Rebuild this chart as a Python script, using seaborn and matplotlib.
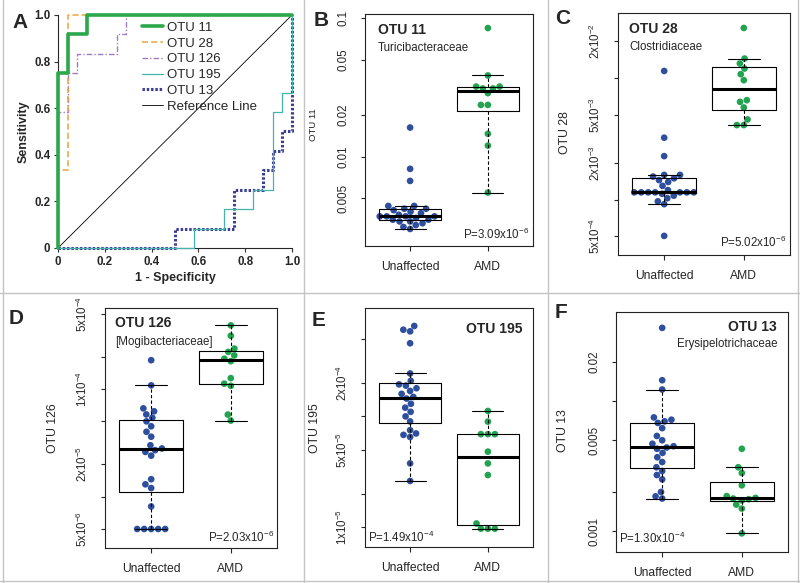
import numpy as np
import pandas as pd
import matplotlib
matplotlib.use("Agg")
import matplotlib.pyplot as plt
from matplotlib.lines import Line2D
from matplotlib.ticker import FixedLocator, NullLocator
import seaborn as sns

# ROC curves (1 - specificity, sensitivity) for panel A
roc_otu11_fpr = [0, 0, 0.042, 0.125, 1]
roc_otu11_tpr = [0, 0.75, 0.917, 1, 1]
roc_otu28_fpr = [0, 0, 0.042, 1]
roc_otu28_tpr = [0, 0.333, 1, 1]
roc_otu126_fpr = [0, 0, 0.042, 0.083, 0.25, 0.292, 1]
roc_otu126_tpr = [0, 0.583, 0.75, 0.833, 0.917, 1, 1]
roc_otu195_fpr = [0, 0.583, 0.708, 0.833, 0.917, 0.958, 1]
roc_otu195_tpr = [0, 0.083, 0.167, 0.25, 0.583, 0.667, 1]
roc_otu13_fpr = [0, 0.5, 0.75, 0.875, 0.917, 0.958, 1]
roc_otu13_tpr = [0, 0.083, 0.25, 0.333, 0.417, 0.5, 1]

groups = ["Unaffected", "AMD"]

# relative abundances per subject
otu11_unaffected = [0.0162, 0.00815, 0.00667, 0.0044, 0.0044, 0.0042, 0.0042, 0.0041,
                    0.0040, 0.0039, 0.0038, 0.0037, 0.0037, 0.0037, 0.0037, 0.0036,
                    0.0035, 0.0035, 0.0034, 0.0034, 0.0033, 0.0032, 0.0031, 0.0030]
otu11_amd = [0.0847, 0.0385, 0.032, 0.032, 0.031, 0.031, 0.0287, 0.0236, 0.0236,
             0.0146, 0.0120, 0.0055]

otu28_unaffected = [0.0114, 0.00323, 0.00228, 0.0016, 0.0016, 0.00155, 0.0015, 0.00145,
                    0.0014, 0.0013, 0.0012, 0.00115, 0.00115, 0.00115, 0.00115, 0.00115,
                    0.00115, 0.00115, 0.00112, 0.00108, 0.00103, 0.00097, 0.00092, 0.000505]
otu28_amd = [0.0257, 0.01442, 0.01313, 0.01194, 0.01073, 0.00958, 0.00656, 0.00636,
             0.00572, 0.00456, 0.0041, 0.0041]

otu126_unaffected = [1.85e-4, 1.08e-4, 6.6e-5, 6.2e-5, 5.8e-5, 5.4e-5, 5.0e-5, 4.5e-5,
                     4.0e-5, 3.6e-5, 3.0e-5, 2.8e-5, 2.7e-5, 2.6e-5, 2.4e-5, 1.45e-5,
                     1.3e-5, 1.2e-5, 8.1e-6, 5e-6, 5e-6, 5e-6, 5e-6, 5e-6]
otu126_amd = [3.9e-4, 3.12e-4, 2.37e-4, 2.21e-4, 2.05e-4, 1.91e-4, 1.81e-4, 1.26e-4,
              1.12e-4, 1.07e-4, 5.78e-5, 5.08e-5]

otu195_unaffected = [6.6e-4, 6.1e-4, 5.9e-4, 4.6e-4, 2.45e-4, 2.1e-4, 1.95e-4, 1.9e-4,
                     1.8e-4, 1.7e-4, 1.6e-4, 1.5e-4, 1.45e-4, 1.3e-4, 1.2e-4, 1.1e-4,
                     1.0e-4, 9.0e-5, 7.5e-5, 7.0e-5, 6.8e-5, 6.5e-5, 3.75e-5, 2.6e-5]
otu195_amd = [1.12e-4, 8.97e-5, 6.9e-5, 6.9e-5, 6.9e-5, 4.79e-5, 3.75e-5, 2.94e-5,
              1.07e-5, 9.6e-6, 9.6e-6, 9.6e-6]

otu13_unaffected = [0.0367, 0.0145, 0.0123, 0.0075, 0.0072, 0.0070, 0.0068, 0.0062,
                    0.0054, 0.0050, 0.0047, 0.0045, 0.0044, 0.0043, 0.0040, 0.0037,
                    0.0034, 0.0031, 0.0029, 0.0027, 0.0025, 0.0020, 0.00185, 0.00178]
otu13_amd = [0.0043, 0.0031, 0.0028, 0.00225, 0.00186, 0.0018, 0.00178, 0.00176,
             0.00172, 0.00160, 0.00149, 0.00096]

sns.set_style("ticks")
plt.rcParams["font.family"] = ["Liberation Sans", "DejaVu Sans"]
plt.rcParams["mathtext.fontset"] = "custom"
plt.rcParams["mathtext.rm"] = "Liberation Sans"
plt.rcParams["mathtext.it"] = "Liberation Sans:italic"
plt.rcParams["mathtext.bf"] = "Liberation Sans:bold"

W, H = 800, 583
BLUE = "#2d4f9e"
GREEN = "#22a34f"


def rect(l, t, r, b):
    return [l / W, 1 - b / H, (r - l) / W, (b - t) / H]


def sci(m, e):
    return rf"{m}x10$^{{{e}}}$"


fig = plt.figure(figsize=(8, 5.83), dpi=100)


def put(x, y, s, **kw):
    fig.text(x / W, 1 - y / H, s, **kw)


# ---- panel A: ROC curves ----
axA = fig.add_axes(rect(58, 15, 292, 248))
sns.lineplot(x=[0, 1], y=[0, 1], color="black", lw=0.6, label="Reference Line",
             ax=axA, zorder=1)
roc_styles = [
    ("OTU 11", roc_otu11_fpr, roc_otu11_tpr, "#2aa84a", 2.6, "-"),
    ("OTU 28", roc_otu28_fpr, roc_otu28_tpr, "#e9a53c", 1.1, (0, (4, 2))),
    ("OTU 126", roc_otu126_fpr, roc_otu126_tpr, "#a07cbf", 1.0, (0, (4, 1.5, 1, 1.5))),
    ("OTU 195", roc_otu195_fpr, roc_otu195_tpr, "#43b3ab", 0.9, "-"),
    ("OTU 13", roc_otu13_fpr, roc_otu13_tpr, "#3b3e96", 2.2, (0, (0.8, 0.6))),
]
for name, fpr, tpr, col, lw, ls in roc_styles[::-1]:
    sns.lineplot(x=fpr, y=tpr, sort=False, estimator=None, color=col, lw=lw,
                 linestyle=ls, drawstyle="steps-post", label=name, ax=axA,
                 clip_on=False, zorder=3)
axA.set_xlim(0, 1)
axA.set_ylim(0, 1)
sns.despine(ax=axA)
ticksA = [0, 0.2, 0.4, 0.6, 0.8, 1.0]
labA = ["0", "0.2", "0.4", "0.6", "0.8", "1.0"]
axA.set_xticks(ticksA, labA, fontweight="bold", fontsize=8.3)
axA.set_yticks(ticksA, labA, fontweight="bold", fontsize=8.3)
axA.tick_params(length=3, width=0.8, pad=2.5, color="#333333")
for sp in axA.spines.values():
    sp.set_linewidth(0.8)
axA.set_xlabel("1 - Specificity", fontweight="bold", fontsize=9, labelpad=3)
axA.set_ylabel("Sensitivity", fontweight="bold", fontsize=9, labelpad=3)
handles, labels = axA.get_legend_handles_labels()
order = ["OTU 11", "OTU 28", "OTU 126", "OTU 195", "OTU 13", "Reference Line"]
hmap = dict(zip(labels, handles))
axA.legend([hmap[k] for k in order], order, loc="upper left",
           bbox_to_anchor=(0.36, 0.972), frameon=False, fontsize=9.5,
           handlelength=1.6, handletextpad=0.25, labelspacing=0.27,
           borderpad=0, borderaxespad=0)


# ---- boxplot panels ----
def box_panel(box, unaffected, amd, ylim, ticks, ticklabels):
    ax = fig.add_axes(rect(*box))
    df = pd.DataFrame({
        "group": ["Unaffected"] * len(unaffected) + ["AMD"] * len(amd),
        "value": list(unaffected) + list(amd),
    })
    sns.swarmplot(data=df, x="group", y="value", order=groups, hue="group",
                  palette={"Unaffected": BLUE, "AMD": GREEN}, size=4.8,
                  legend=False, ax=ax, zorder=1)
    sns.boxplot(data=df, x="group", y="value", order=groups, width=0.8,
                fill=False, color="black", linewidth=0.8, showfliers=False,
                whiskerprops={"linestyle": (0, (3, 2))},
                medianprops={"linewidth": 2.2}, ax=ax)
    ax.set_yscale("log")
    ax.set_xlim(-0.58, 1.58)
    ax.set_ylim(*ylim)
    ax.yaxis.set_major_locator(FixedLocator(ticks))
    ax.yaxis.set_minor_locator(NullLocator())
    ax.set_yticklabels(ticklabels, rotation=90, va="center", fontsize=8.3)
    ax.set_xticks([0, 1], groups, fontsize=8.7)
    ax.tick_params(axis="y", length=3, width=0.8, pad=8)
    ax.tick_params(axis="x", length=3.5, width=0.8, pad=7)
    ax.set_xlabel("")
    ax.set_ylabel("")
    for sp in ax.spines.values():
        sp.set_visible(True)
        sp.set_linewidth(0.8)
        sp.set_color("#222222")
    return ax


box_panel((365, 14, 533, 246), otu11_unaffected, otu11_amd, (0.00226, 0.107),
          [0.005, 0.01, 0.02, 0.05, 0.1], ["0.005", "0.01", "0.02", "0.05", "0.1"])
box_panel((618, 13, 790, 255), otu28_unaffected, otu28_amd, (0.000352, 0.0341),
          [5e-4, 1e-3, 2e-3, 5e-3, 1e-2, 2e-2],
          [sci(5, -4), "", sci(2, -3), sci(5, -3), "", sci(2, -2)])
box_panel((105, 308, 277, 548), otu126_unaffected, otu126_amd, (3.33e-6, 5.65e-4),
          [5e-6, 1e-5, 2e-5, 5e-5, 1e-4, 2e-4, 5e-4],
          [sci(5, -6), "", sci(2, -5), "", sci(1, -4), "", sci(5, -4)])
box_panel((365, 308, 533, 547), otu195_unaffected, otu195_amd, (6.55e-6, 9.6e-4),
          [1e-5, 2e-5, 5e-5, 1e-4, 2e-4, 5e-4],
          [sci(1, -5), "", sci(5, -5), "", sci(2, -4), ""])
box_panel((616, 312, 788, 552), otu13_unaffected, otu13_amd, (0.00069, 0.0486),
          [0.001, 0.002, 0.005, 0.01, 0.02], ["0.001", "", "0.005", "", "0.02"])

# y labels
put(314, 125, "OTU 11", rotation=90, ha="center", va="center", fontsize=6.8)
put(565, 133, "OTU 28", rotation=90, ha="center", va="center", fontsize=8.8)
put(53, 428, "OTU 126", rotation=90, ha="center", va="center", fontsize=8.8)
put(315, 428, "OTU 195", rotation=90, ha="center", va="center", fontsize=8.8)
put(563, 431, "OTU 13", rotation=90, ha="center", va="center", fontsize=8.8)

# titles inside panels
put(378, 30, "OTU 11", fontsize=10, fontweight="bold", va="center")
put(378, 48, "Turicibacteraceae", fontsize=8.3, va="center")
put(529, 234, "P=3.09x10$^{-6}$", fontsize=8.3, ha="right", va="center")
put(629, 29, "OTU 28", fontsize=10, fontweight="bold", va="center")
put(629, 47, "Clostridiaceae", fontsize=8.3, va="center")
put(786, 242, "P=5.02x10$^{-6}$", fontsize=8.3, ha="right", va="center")
put(115, 323, "OTU 126", fontsize=10, fontweight="bold", va="center")
put(115, 342, "[Mogibacteriaceae]", fontsize=8.3, va="center")
put(274, 537, "P=2.03x10$^{-6}$", fontsize=8.3, ha="right", va="center")
put(523, 329, "OTU 195", fontsize=10, fontweight="bold", ha="right", va="center")
put(368, 537, "P=1.49x10$^{-4}$", fontsize=8.3, va="center")
put(777, 327, "OTU 13", fontsize=10, fontweight="bold", ha="right", va="center")
put(777, 344, "Erysipelotrichaceae", fontsize=8.3, ha="right", va="center")
put(619, 538, "P=1.30x10$^{-4}$", fontsize=8.3, va="center")

# panel letters
for letter, x, y in [("A", 20, 23), ("B", 321, 21), ("C", 563, 18),
                     ("D", 16, 319), ("E", 319, 320), ("F", 561, 312)]:
    put(x, y, letter, fontsize=15, fontweight="bold", ha="center", va="center")

# panel separators
sep = "#c4c4c4"
for x in (304, 548):
    fig.add_artist(Line2D([x / W, x / W], [0, 1], color=sep, lw=1))
fig.add_artist(Line2D([0, 1], [1 - 293 / H, 1 - 293 / H], color=sep, lw=1))
fig.add_artist(Line2D([2.5 / W, 2.5 / W], [0, 1], color=sep, lw=1))
fig.add_artist(Line2D([0, 1], [1 - 580.5 / H, 1 - 580.5 / H], color=sep, lw=1))
fig.add_artist(Line2D([797.5 / W, 797.5 / W], [0, 1], color=sep, lw=1))

fig.savefig("out.png", dpi=100)
